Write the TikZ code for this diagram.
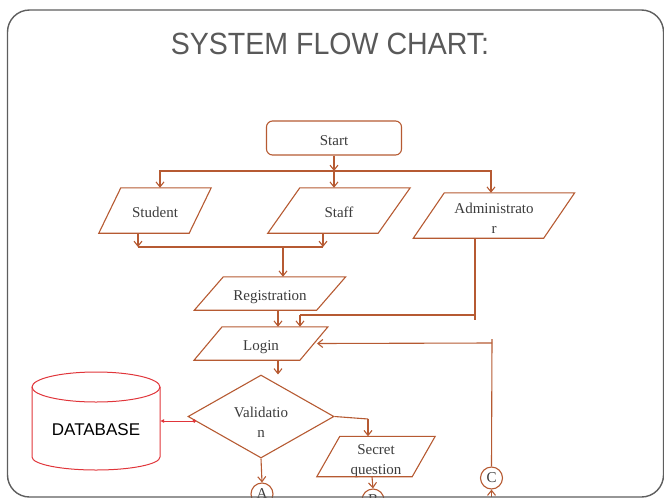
\documentclass[tikz,border=0pt]{standalone}
\usepackage{fontspec}
\setmainfont{Liberation Serif}
\newfontfamily\titlefont{Liberation Sans}
\usetikzlibrary{shapes.geometric,arrows.meta}
\definecolor{fc}{HTML}{B65A32}
\definecolor{tc}{HTML}{3C3C3C}
\definecolor{frm}{HTML}{5E5E5E}
\definecolor{ttl}{HTML}{595959}
\definecolor{dbred}{HTML}{E0353A}
\newcommand\parabox[2]{\draw[fl] ([xshift=#2]#1.north west) -- ([xshift=#2]#1.north east) -- ([xshift=-#2]#1.south east) -- ([xshift=-#2]#1.south west) -- cycle;}
\newcommand\dn[2]{\raisebox{-#1pt}[\height][\depth]{\begin{tabular}{@{}c@{}}#2\end{tabular}}}
\begin{document}
\begin{tikzpicture}[x=1pt,y=-1pt,
  fl/.style={draw=fc, line width=1.1pt},
  flow/.style={draw=fc, line width=1.1pt, -{Straight Barb[length=5pt,width=8pt]}},
  plain/.style={draw=fc, line width=1.1pt},
  txt/.style={text=tc, font=\fontsize{15}{20}\selectfont, align=center, inner sep=0pt},
  io/.style={txt},
  startbox/.style={txt, draw=fc, line width=1.1pt, rounded corners=6pt, minimum width=135, minimum height=34},
  decision/.style={txt, diamond, shape aspect=1.76, draw=fc, line width=1.1pt, minimum width=146, minimum height=83},
  conn/.style={txt, circle, draw=fc, line width=1.1pt, minimum size=22},
  dbline/.style={draw=dbred, line width=1pt}]
\useasboundingbox (0,0) rectangle (664,501);

% title
\node[font=\titlefont\fontsize{30.7}{34}\selectfont, text=ttl, inner sep=0pt] (title) at (330,44) {\scalebox{0.93}[1]{SYSTEM FLOW CHART:}};

% nodes
\node[startbox] (start) at (334,138) {\dn{3}{Start}};
\node[io, minimum width=90, minimum height=45] (stu) at (155,210.5) {\dn{3}{Student}};
\node[io, minimum width=110, minimum height=45] (stf) at (339,210.5) {\dn{3}{Staff}};
\node[io, minimum width=130, minimum height=45] (adm) at (494,215.5) {\dn{3.5}{Administrato\\r}};
\node[io, minimum width=122, minimum height=33] (reg) at (270,293.5) {\dn{3}{Registration}};
\node[io, minimum width=105.5, minimum height=33] (lgn) at (261,343.5) {\dn{3}{Login}};
\node[io, minimum width=95, minimum height=39] (sec) at (376,456.5) {\dn{3.5}{Secret\\question}};
\node[decision] (val) at (261,416.5) {\dn{6.5}{Validatio\\n}};
\node[conn] (C) at (491.5,478) {C};

\parabox{stu}{11}
\parabox{stf}{16}
\parabox{adm}{15.5}
\parabox{reg}{14.5}
\parabox{lgn}{14}
\parabox{sec}{11.5}

% database cylinder
\draw[dbline] (96,387) ellipse [x radius=64pt, y radius=15pt];
\draw[dbline] (32,387) -- (32,457) arc[start angle=180, end angle=360, x radius=64pt, y radius=13pt] -- (160,387);
\node[font=\titlefont\fontsize{17}{20}\selectfont, text=black, inner sep=0pt] (db) at (96,430) {DATABASE};

% connector points
\coordinate (j1) at (334,171);
\coordinate (jl) at (138,247);
\coordinate (jr) at (323,247);
\coordinate (jm) at (283,247);
\coordinate (a1) at (475,315);
\coordinate (a2) at (475,320);
\coordinate (a3) at (300,315);
\coordinate (c1) at (492,339);
\coordinate (c2) at (492,343);
\coordinate (vr) at (368,419);
\coordinate (vdot) at (196,421);
\coordinate (dbin) at (160,421);
\coordinate (cb) at (491.5,497);

% connectors
\draw[flow] (start.south) -- (j1);
\draw[flow] (j1) -| ([xshift=5]stu.north);
\draw[flow] (j1) -- (j1 |- stf.north);
\draw[flow] (j1) -| ([xshift=-3]adm.north);
\draw[flow] ([xshift=-17]stu.south) -- (jl);
\draw[flow] ([xshift=-16]stf.south) -- (jr);
\draw[plain] (jl) -- (jr);
\draw[flow] (jm) -- (jm |- reg.north);
\draw[plain] ([xshift=-19]adm.south) -- (a2);
\draw[plain] (a1) -- (a3);
\draw[flow] (a3) -- (a3 |- lgn.north);
\draw[flow] ([xshift=8]reg.south) -- ([xshift=17]lgn.north);
\draw[flow] ([xshift=17]lgn.south) -- ([xshift=17]val.north);
\draw[plain] (C.north) -- (c1);
\draw[flow] (c2) -- ([xshift=3]lgn.east);
\draw[plain] (val.east) -- (vr);
\draw[flow] (vr) -- (vr |- sec.north);
\draw[flow] (cb) -- (C.south);
\draw[dbline, {Circle[length=3.5pt]}-{Latex[length=4pt,width=4pt]}] (vdot) -- (dbin);

% bottom connectors, clipped by the frame
\begin{scope}
\clip (0,0) rectangle (664,497);
\node[conn] (A) at (262,494) {A};
\node[conn] (B) at (373,500) {B};
\end{scope}
\draw[flow] (val.south) -- (A.north);
\draw[flow] ([xshift=-4]sec.south) -- (B.north);

% frame
\draw[frm, line width=1.4pt, rounded corners=22pt] (7.5,10) rectangle (663.5,497);
\end{tikzpicture}
\end{document}
